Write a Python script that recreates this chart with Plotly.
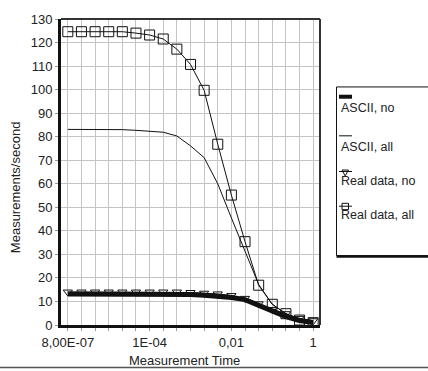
import plotly.graph_objects as go

# ---------------- data ----------------
time_labels = ["8,00E-07", "1,7E-06", "3,7E-06", "7,9E-06", "1,7E-05", "3,7E-05",
               "1E-04", "2,2E-04", "4,6E-04", "1E-03", "2,2E-03", "4,6E-03",
               "0,01", "0,022", "0,046", "0,1", "0,22", "0,46", "1"]
shown_ticks = ["8,00E-07", "1E-04", "0,01", "1"]

ascii_no = [13.2, 13.2, 13.2, 13.2, 13.2, 13.2, 13.2, 13.2, 13.1, 13.0,
            12.6, 12.2, 11.7, 10.8, 8.4, 5.8, 3.6, 1.9, 1.0]
ascii_all = [83.1, 83.1, 83.1, 83.1, 83.0, 82.7, 82.3, 81.9, 80.3, 76.1,
             71.1, 60.0, 45.5, 31.5, 17.2, 8.8, 4.8, 2.1, 1.0]
real_no = [14.0, 14.0, 14.0, 14.0, 14.0, 14.0, 14.0, 14.0, 14.0, 13.8,
           13.5, 13.2, 12.5, 11.3, 9.0, 6.6, 4.8, 2.8, 1.8]
real_all = [124.6, 124.6, 124.6, 124.6, 124.6, 124.0, 123.2, 121.5, 117.2, 110.7,
            99.7, 76.8, 55.2, 35.4, 16.9, 8.8, 4.8, 2.1, 1.0]

y_ticks = list(range(0, 131, 10))

FONT = "Liberation Sans, Arial, sans-serif"
TXT = "#222222"

# plot-area geometry (pixels) for decorations
W, H = 428, 371
PL, PR, PT, PB = 61, 320, 12, 325


def px(x):
    return (x - PL) / (PR - PL)


def py(y):
    return (PB - y) / (PB - PT)


fig = go.Figure()

fig.add_trace(go.Scatter(x=time_labels, y=real_no, name="Real data, no", mode="lines+markers",
                         line=dict(color="#111111", width=1),
                         marker=dict(symbol="triangle-down-open", size=8, color="#111111",
                                     line=dict(width=1))))
fig.add_trace(go.Scatter(x=time_labels, y=ascii_no, name="ASCII, no", mode="lines",
                         line=dict(color="#111111", width=5)))
fig.add_trace(go.Scatter(x=time_labels, y=ascii_all, name="ASCII, all", mode="lines",
                         line=dict(color="#111111", width=1)))
fig.add_trace(go.Scatter(x=time_labels, y=real_all, name="Real data, all", mode="lines+markers",
                         line=dict(color="#111111", width=1),
                         marker=dict(symbol="square-open", size=10, color="#111111",
                                     line=dict(width=1))))

ticktext = [t if t in shown_ticks else "" for t in time_labels]

fig.update_layout(
    width=W, height=H,
    margin=dict(l=PL, r=W - PR, t=PT, b=H - PB),
    paper_bgcolor="white", plot_bgcolor="white",
    showlegend=False,
    font=dict(family=FONT, size=12, color=TXT),
    xaxis=dict(type="category", range=[-0.5, 18.5],
               tickmode="array", tickvals=time_labels, ticktext=ticktext,
               showgrid=True, gridcolor="#c4c4c4", gridwidth=1,
               showline=True, linecolor="#111111", linewidth=3,
               ticks="outside", ticklen=3, tickcolor="#999999",
               tickfont=dict(size=13), zeroline=False),
    yaxis=dict(range=[0, 130], tickmode="array", tickvals=y_ticks,
               showgrid=True, gridcolor="#c4c4c4", gridwidth=1,
               showline=True, linecolor="#111111", linewidth=3,
               ticks="outside", ticklen=3, tickcolor="#999999",
               tickfont=dict(size=13), zeroline=False),
)

shapes = []
# top and right frame
shapes.append(dict(type="line", xref="paper", yref="paper", x0=0, x1=1, y0=1, y1=1,
                   line=dict(color="#333333", width=2)))
shapes.append(dict(type="line", xref="paper", yref="paper", x0=1, x1=1, y0=0, y1=1,
                   line=dict(color="#333333", width=2)))
# bottom separator line
shapes.append(dict(type="line", xref="paper", yref="paper", x0=px(0), x1=px(W),
                   y0=py(368.5), y1=py(368.5), line=dict(color="#555555", width=1.5)))
# legend box
shapes.append(dict(type="rect", xref="paper", yref="paper", x0=px(336.5), x1=px(432),
                   y0=py(254), y1=py(81.5), line=dict(color="#111111", width=1),
                   fillcolor="white"))
shapes.append(dict(type="line", xref="paper", yref="paper", x0=px(336.5), x1=px(430),
                   y0=py(255), y1=py(255), line=dict(color="#111111", width=2.5)))
# legend symbols
shapes.append(dict(type="line", xref="paper", yref="paper", x0=px(339), x1=px(352),
                   y0=py(91.5), y1=py(91.5), line=dict(color="#111111", width=4)))
shapes.append(dict(type="line", xref="paper", yref="paper", x0=px(339), x1=px(352),
                   y0=py(131.5), y1=py(131.5), line=dict(color="#111111", width=1)))
shapes.append(dict(type="line", xref="paper", yref="paper", x0=px(339), x1=px(352),
                   y0=py(168), y1=py(168), line=dict(color="#111111", width=1)))
tri = "M {} {} L {} {} L {} {} Z".format(px(342), py(166.5), px(348.5), py(166.5),
                                            px(345.2), py(172.5))
shapes.append(dict(type="path", xref="paper", yref="paper", path=tri,
                   line=dict(color="#111111", width=1)))
shapes.append(dict(type="line", xref="paper", yref="paper", x0=px(339), x1=px(352),
                   y0=py(203.5), y1=py(203.5), line=dict(color="#111111", width=1)))
shapes.append(dict(type="rect", xref="paper", yref="paper", x0=px(342), x1=px(348.5),
                   y0=py(207), y1=py(200.5), line=dict(color="#111111", width=1)))
fig.update_layout(shapes=shapes)

annotations = []
for label, yy in [("ASCII, no", 103), ("ASCII, all", 143), ("Real data, no", 177.5),
                  ("Real data, all", 212)]:
    annotations.append(dict(text=label, xref="paper", yref="paper", x=px(338.5), y=py(yy),
                            xanchor="left", yanchor="middle", showarrow=False,
                            font=dict(size=12.5, color=TXT)))
annotations.append(dict(text="Measurement Time", xref="paper", yref="paper",
                        x=px(184), y=py(361), xanchor="center", yanchor="middle",
                        showarrow=False, font=dict(size=13, color=TXT)))
annotations.append(dict(text="Measurements/second", xref="paper", yref="paper",
                        x=px(15), y=py(184), xanchor="center", yanchor="middle",
                        textangle=-90, showarrow=False, font=dict(size=13, color=TXT)))
fig.update_layout(annotations=annotations)

fig.write_html("out.html", config={"displayModeBar": False},
               post_script="document.body.style.margin='0';"
               "document.body.style.overflow='hidden';")
